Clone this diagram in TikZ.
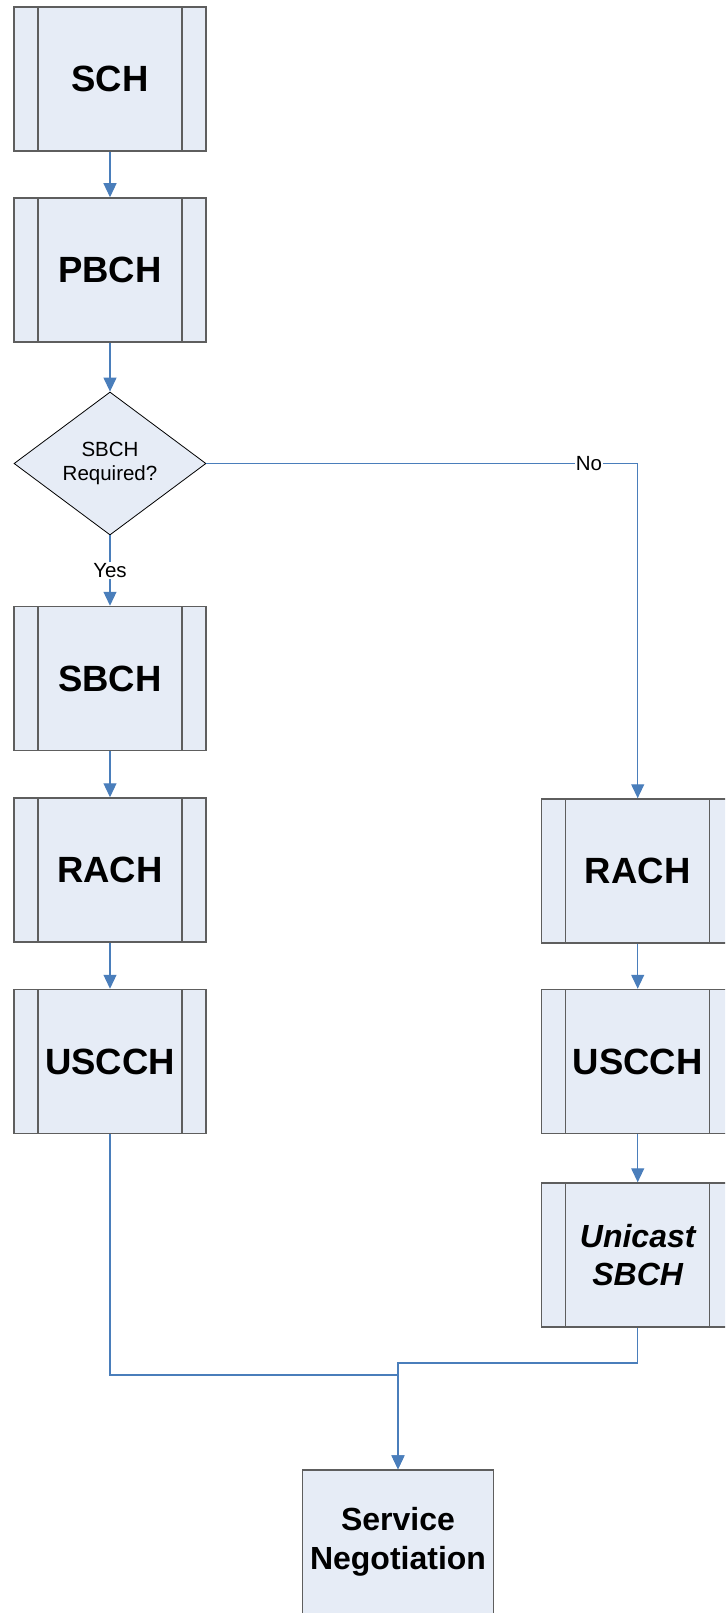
\documentclass[tikz,border=0pt]{standalone}
\usepackage{fontspec}
\setmainfont{Liberation Sans}
\usetikzlibrary{shapes.geometric,arrows.meta}
\definecolor{boxfill}{HTML}{E6ECF6}
\definecolor{boxedge}{HTML}{5E5E5E}
\definecolor{connblue}{HTML}{4A7EBB}
\begin{document}
\begin{tikzpicture}[x=1pt,y=-1pt,
  plainbox/.style={draw=boxedge, line width=1.5pt, fill=boxfill, minimum width=192pt, minimum height=144pt, inner sep=0pt, align=center},
  procbox/.style={plainbox, font=\fontsize{36.5}{44}\selectfont\bfseries,
    path picture={\draw[boxedge,line width=1.5pt]
      ([xshift=24pt]path picture bounding box.north west) -- ([xshift=24pt]path picture bounding box.south west)
      ([xshift=-24pt]path picture bounding box.north east) -- ([xshift=-24pt]path picture bounding box.south east);}},
  decision/.style={diamond, draw=black, line width=0.8pt, fill=boxfill, minimum width=192pt, minimum height=143pt, inner sep=0pt, aspect=1.34, align=center, font=\fontsize{20.5}{24.6}\selectfont},
  conn/.style={draw=connblue, line width=1.2pt, -{Triangle[length=14pt,width=13pt]}},
  lbl/.style={fill=white, inner sep=1pt, text=black, font=\fontsize{20.5}{24}\selectfont}
]
\useasboundingbox (0,0) rectangle (725,1613);
\clip (0,0) rectangle (725,1613);

% left column
\node[procbox] (sch)   at (110,79)    {SCH};
\node[procbox] (pbch)  at (110,270)   {PBCH};
\node[decision] (dec)  at (110,463.5) {SBCH\\Required?};
\node[procbox] (sbch)  at (110,678.5) {SBCH};
\node[procbox] (lrach) at (110,870)   {RACH};
\node[procbox] (luscch) at (110,1061.5) {USCCH};

% right column
\node[procbox] (rrach)  at (637.7,871)    {RACH};
\node[procbox] (ruscch) at (637.7,1061.5) {USCCH};
\node[procbox, font=\fontsize{32}{38}\selectfont\bfseries\itshape] (uni) at (637.7,1255) {Unicast\\SBCH};

% final
\node[plainbox, minimum width=191pt, font=\fontsize{32}{39}\selectfont\bfseries] (svc) at (398,1542) {Service\\Negotiation};

\coordinate (jl) at (110,1375);
\coordinate (jr) at (637.7,1363);

% connectors
\draw[conn] (sch.south) -- (pbch.north);
\draw[conn] (pbch.south) -- (dec.north);
\draw[conn] (dec.south) -- node[lbl]{Yes} (sbch.north);
\draw[conn] (dec.east) -- node[lbl,pos=0.887]{No} (dec.east -| rrach.north) -- (rrach.north);
\draw[conn] (sbch.south) -- (lrach.north);
\draw[conn] (lrach.south) -- (luscch.north);
\draw[conn] (rrach.south) -- (ruscch.north);
\draw[conn] (ruscch.south) -- (uni.north);
\draw[conn] (luscch.south) -- (jl) -| (svc.north);
\draw[conn] (uni.south) -- (jr) -| (svc.north);
\end{tikzpicture}
\end{document}
